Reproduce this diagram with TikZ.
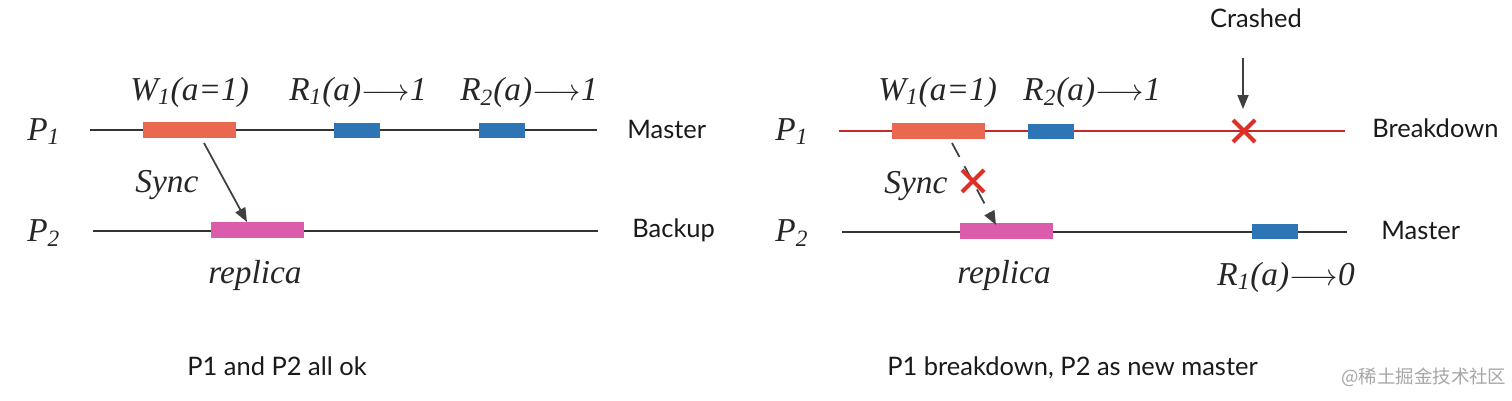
\documentclass[tikz,border=0pt]{standalone}
\usepackage{fontspec}
\usetikzlibrary{positioning,arrows.meta,calc}
\newfontfamily\lbl{Lato}
\newfontfamily\tms{Liberation Serif}
\newfontfamily\cjk{Noto Sans CJK SC}
\definecolor{vsalmon}{RGB}{234,104,80}
\definecolor{vblue}{RGB}{46,117,182}
\definecolor{vpink}{RGB}{218,92,170}
\definecolor{vred}{RGB}{196,40,40}
\definecolor{xred}{RGB}{222,48,38}
\newcommand{\ato}{$\longrightarrow$}

\begin{document}
\begin{tikzpicture}[x=0.02cm,y=-0.02cm,
    tl/.style={line width=1.1pt,draw=black!80},
    op/.style={inner sep=0pt,minimum height=3.2mm},
    wbox/.style={op,fill=vsalmon,minimum width=18.6mm},
    rbox/.style={op,fill=vblue,minimum width=9.2mm,minimum height=3mm},
    pbox/.style={op,fill=vpink,minimum width=18.6mm},
    ser/.style={font=\tms\itshape\fontsize{19}{22}\selectfont,inner sep=0pt,anchor=base west,text=black!85},
    sans/.style={font=\lbl\fontsize{14.5}{17}\selectfont,inner sep=0pt,anchor=base west,text=black!90},
    cross/.style={draw=xred,line width=2.4pt},
    every edge/.style={draw,-{Triangle[length=2.8mm,width=2.2mm]},line width=1pt,black!75}]
    \useasboundingbox (0,0) rectangle (1512,400);
    % left: P1 and P2 all ok
    \node[ser] (p1l) at (27,140) {P\textsubscript{1}};
    \node[ser] (p2l) at (27,241) {P\textsubscript{2}};
    \coordinate (l1a) at (90,130);\coordinate (l1b) at (597,130);
    \coordinate (l2a) at (93,231);\coordinate (l2b) at (598,231);
    \draw[tl] (l1a) -- (l1b);\draw[tl] (l2a) -- (l2b);
    \node[wbox] (w1l) at (189.5,130) {};
    \node[rbox] (r1l) at (357,130) {};
    \node[rbox] (r2l) at (501.5,130) {};
    \node[pbox] (rpl) at (257.5,230) {};
    \node[ser] (tw1l) at (130,100) {W\textsubscript{1}(a=1)};
    \node[ser] (tr1l) at (289,100) {R\textsubscript{1}(a)\ato 1};
    \node[ser] (tr2l) at (460,100) {R\textsubscript{2}(a)\ato 1};
    \node[ser] (tsl) at (135,192) {Sync};
    \node[ser] (trpl) at (208,283) {replica};
    \coordinate (s1a) at (204,143);\coordinate (s1b) at (247,222);
    \path (s1a) edge (s1b);
    \node[sans] (ml) at (627,138) {Master};
    \node[sans] (bl) at (632,237) {Backup};
    \node[sans] (cl) at (187,375) {P1 and P2 all ok};
    % right: P1 breakdown, P2 as new master
    \node[ser] (p1r) at (775,140) {P\textsubscript{1}};
    \node[ser] (p2r) at (775,241) {P\textsubscript{2}};
    \coordinate (r1a) at (839,131);\coordinate (r1b) at (1345,131);
    \coordinate (r2a) at (842,232);\coordinate (r2b) at (1347,232);
    \draw[tl,draw=vred] (r1a) -- (r1b);\draw[tl] (r2a) -- (r2b);
    \node[wbox] (w1r) at (938,131) {};
    \node[rbox] (r2r) at (1051,131) {};
    \node[pbox] (rpr) at (1006.5,231) {};
    \node[rbox] (r1r) at (1275,231.5) {};
    \node[ser] (tw1r) at (878,100) {W\textsubscript{1}(a=1)};
    \node[ser] (tr2r) at (1023,100) {R\textsubscript{2}(a)\ato 1};
    \node[ser] (tr1r) at (1217,285) {R\textsubscript{1}(a)\ato 0};
    \node[ser] (tsr) at (884,193) {Sync};
    \node[ser] (trpr) at (957,283) {replica};
    \coordinate (s2a) at (952,143);\coordinate (s2b) at (996,225);
    \path (s2a) edge[dash pattern=on 9pt off 6pt] (s2b);
    \coordinate (xs) at (973,181);
    \draw[cross] ($(xs)+(-11,-11)$) -- ($(xs)+(11,11)$) ($(xs)+(-11,11)$) -- ($(xs)+(11,-11)$);
    \coordinate (xc) at (1244,131);
    \draw[cross] ($(xc)+(-11,-11)$) -- ($(xc)+(11,11)$) ($(xc)+(-11,11)$) -- ($(xc)+(11,-11)$);
    \node[sans,anchor=base] (crl) at (1256,27) {Crashed};
    \coordinate (ca) at (1243,58);\coordinate (cb) at (1243,109);
    \path (ca) edge (cb);
    \node[sans] (bdr) at (1372,137) {Breakdown};
    \node[sans] (mr) at (1381,239) {Master};
    \node[sans] (cr) at (887,375) {P1 breakdown, P2 as new master};
    \node[anchor=base west,inner sep=0pt,font=\cjk\fontsize{10.5}{12}\selectfont,text=black!35] (wm) at (1341,383) {@稀土掘金技术社区};
\end{tikzpicture}
\end{document}
